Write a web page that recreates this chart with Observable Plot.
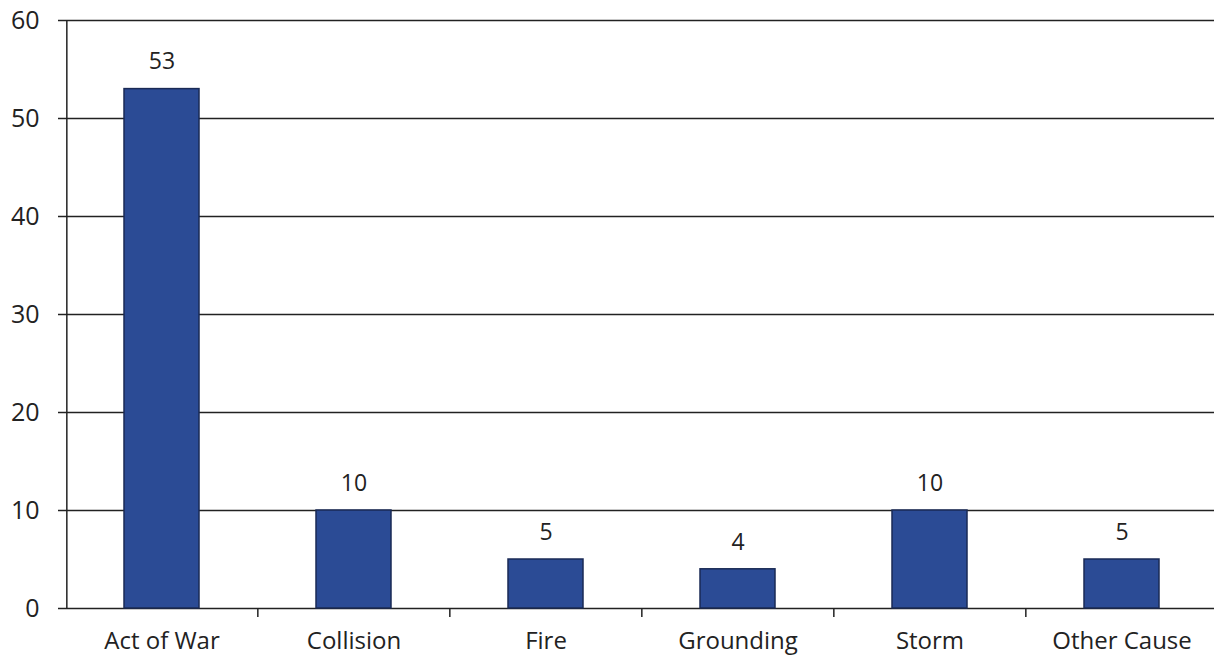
<!DOCTYPE html>
<html><head><meta charset="utf-8">
<script src="https://cdn.jsdelivr.net/npm/d3@7"></script>
<script src="https://cdn.jsdelivr.net/npm/@observablehq/plot@0.6"></script>
<style>
html,body{margin:0;padding:0;background:#fff;}
#chart svg{display:block;}
</style>
</head><body>
<div id="chart"></div>
<script>
const categories = ["Act of War", "Collision", "Fire", "Grounding", "Storm", "Other Cause"];
const values = [53, 10, 5, 4, 10, 5];
const yTicks = [0, 10, 20, 30, 40, 50, 60];

const data = categories.map((c, i) => ({cause: c, count: values[i]}));
const W = 1214, H = 656;
const x0 = 64, x1 = 1218;
const step = (x1 - x0) / categories.length;
const font = "'Open Sans', 'Liberation Sans', sans-serif";

const chart = Plot.plot({
  width: W, height: H,
  marginLeft: 65, marginRight: 0, marginTop: 20, marginBottom: 48,
  style: {fontFamily: font, fontSize: "24px", color: "#222", background: "#fff"},
  x: {type: "band", domain: categories, range: [x0, x1], paddingInner: 0.61, paddingOuter: 0.305, align: 0.5, label: null},
  y: {type: "linear", domain: [0, 60], ticks: yTicks, label: null},
  marks: [
    Plot.ruleY(yTicks, {stroke: "#222", strokeWidth: 1.5}),
    Plot.axisY({ticks: yTicks, tickSize: 7, tickPadding: 19, fontSize: 25, stroke: "#222", strokeWidth: 1.5, label: null}),
    Plot.ruleX([categories[0]], {x: d => d, dx: -step / 2 + 1, y1: 0, y2: 60, stroke: "#222", strokeWidth: 1.5}),
    Plot.barY(data, {x: "cause", y: "count", fill: "#2b4b95", stroke: "#1a2a55", strokeWidth: 1.5}),
    Plot.ruleX(categories.slice(1), {x: d => d, dx: -step / 2, y1: 0, y2: 0, insetBottom: -9, stroke: "#222", strokeWidth: 1.5}),
    Plot.axisX({tickSize: 0, tickPadding: 23, fontSize: 24, label: null}),
    Plot.text(data, {x: "cause", y: "count", text: d => String(d.count), dy: -27, fontSize: 23, fill: "#222"})
  ]
});
document.getElementById("chart").appendChild(chart);
</script>
</body></html>
